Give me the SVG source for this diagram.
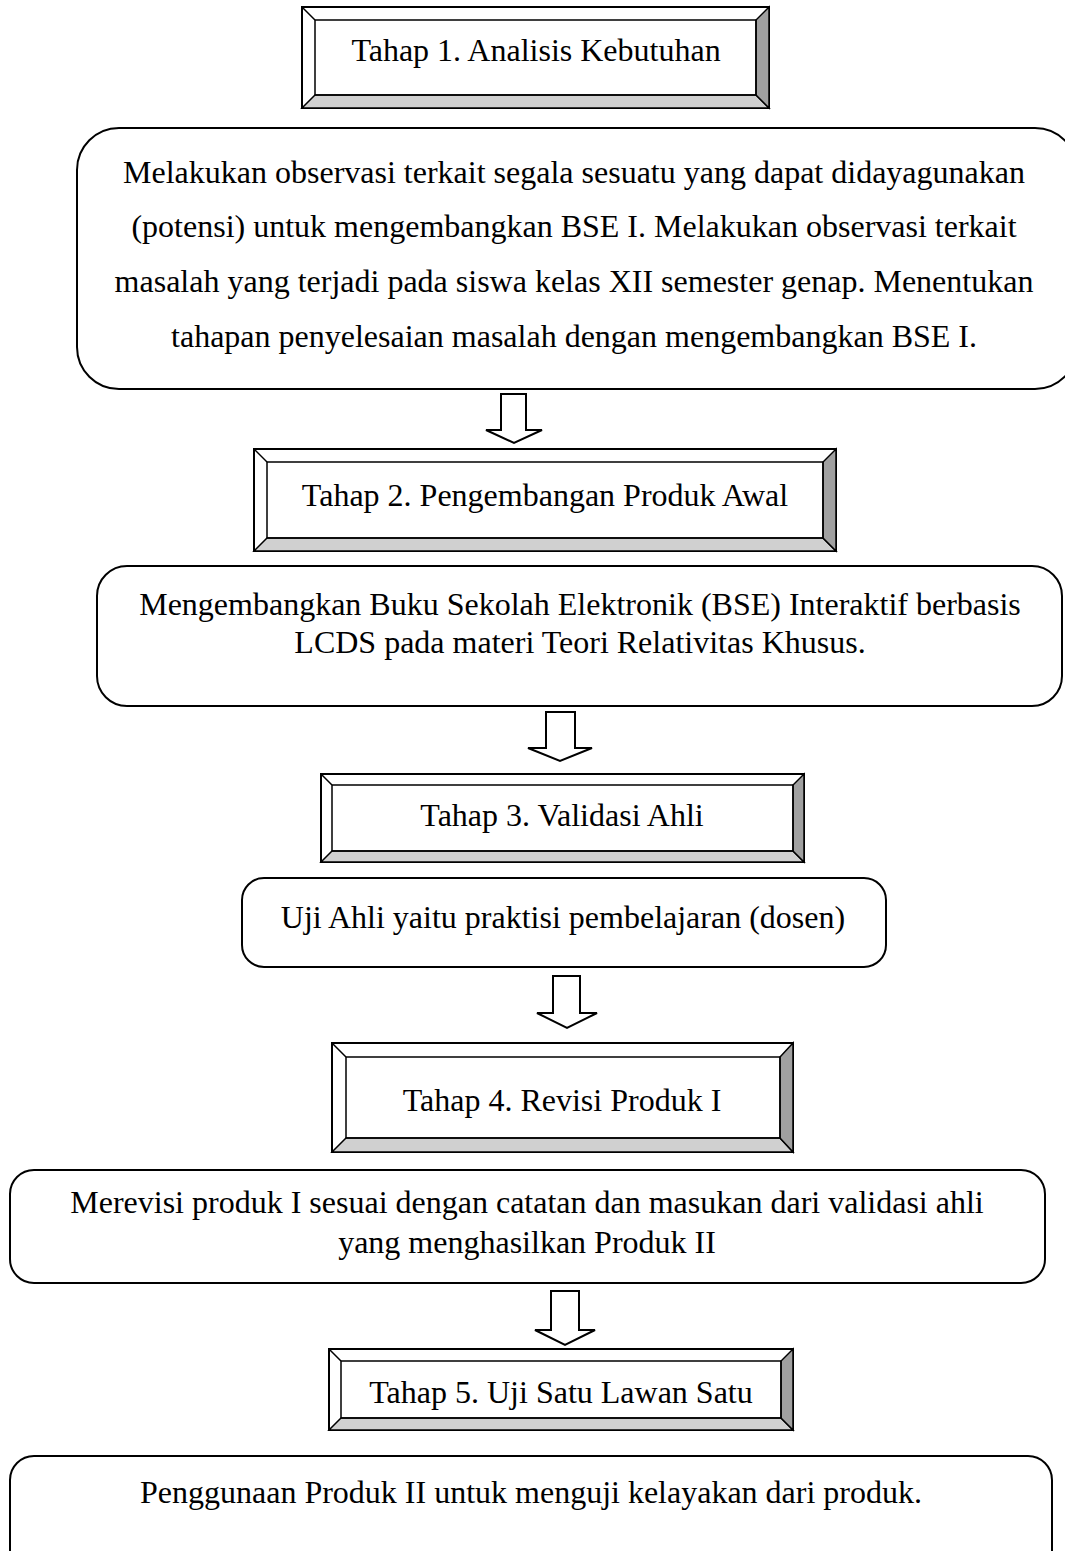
<svg xmlns="http://www.w3.org/2000/svg" width="1065" height="1551" viewBox="0 0 1065 1551">
<style>
text{font-family:"Liberation Serif","Times New Roman",serif;font-size:32px;fill:#000;text-anchor:middle}
.o{fill:#fff;stroke:#000;stroke-width:2}
.bl{fill:#d0d0d0;stroke:#000;stroke-width:1.5}
.br{fill:#a0a0a0;stroke:#000;stroke-width:1.5}
.ln{fill:none;stroke:#000;stroke-width:1.5}
.rb{fill:#fff;stroke:#000;stroke-width:2}
.ar{fill:#fff;stroke:#000;stroke-width:2;stroke-linejoin:miter}
</style>
<rect width="1065" height="1551" fill="#fff"/>
<g id="tahap1">
<rect class="o" x="302" y="7" width="467" height="101"/>
<polygon class="bl" points="302,108 769,108 756,95 315,95"/>
<polygon class="br" points="769,7 769,108 756,95 756,20"/>
<line class="ln" x1="302" y1="7" x2="315" y2="20"/>
<rect class="ln" x="315" y="20" width="441" height="75"/>
<text x="536" y="61">Tahap 1. Analisis Kebutuhan</text>
</g>
<g id="box1">
<rect class="rb" x="77" y="128" width="1000" height="261" rx="42"/>
<text x="574" y="183">Melakukan observasi terkait segala sesuatu yang dapat didayagunakan</text>
<text x="574" y="237">(potensi) untuk mengembangkan BSE I. Melakukan observasi terkait</text>
<text x="574" y="292">masalah yang terjadi pada siswa kelas XII semester genap. Menentukan</text>
<text x="574" y="347">tahapan penyelesaian masalah dengan mengembangkan BSE I.</text>
</g>
<g id="tahap2">
<rect class="o" x="254" y="449" width="582" height="102"/>
<polygon class="bl" points="254,551 836,551 823,538 267,538"/>
<polygon class="br" points="836,449 836,551 823,538 823,462"/>
<line class="ln" x1="254" y1="449" x2="267" y2="462"/>
<rect class="ln" x="267" y="462" width="556" height="76"/>
<text x="545" y="506">Tahap 2. Pengembangan Produk Awal</text>
</g>
<g id="box2">
<rect class="rb" x="97" y="566" width="965" height="140" rx="30"/>
<text x="580" y="615">Mengembangkan Buku Sekolah Elektronik (BSE) Interaktif berbasis</text>
<text x="580" y="653">LCDS pada materi Teori Relativitas Khusus.</text>
</g>
<g id="tahap3">
<rect class="o" x="321" y="774" width="483" height="88"/>
<polygon class="bl" points="321,862 804,862 793,851 332,851"/>
<polygon class="br" points="804,774 804,862 793,851 793,785"/>
<line class="ln" x1="321" y1="774" x2="332" y2="785"/>
<rect class="ln" x="332" y="785" width="461" height="66"/>
<text x="562" y="826">Tahap 3. Validasi Ahli</text>
</g>
<g id="box3">
<rect class="rb" x="242" y="878" width="644" height="89" rx="22"/>
<text x="563" y="928">Uji Ahli yaitu praktisi pembelajaran (dosen)</text>
</g>
<g id="tahap4">
<rect class="o" x="332" y="1043" width="461" height="109"/>
<polygon class="bl" points="332,1152 793,1152 780,1138 346,1138"/>
<polygon class="br" points="793,1043 793,1152 780,1138 780,1057"/>
<line class="ln" x1="332" y1="1043" x2="346" y2="1057"/>
<rect class="ln" x="346" y="1057" width="434" height="81"/>
<text x="562" y="1111">Tahap 4. Revisi Produk I</text>
</g>
<g id="box4">
<rect class="rb" x="10" y="1170" width="1035" height="113" rx="24"/>
<text x="527" y="1213">Merevisi produk I sesuai dengan catatan dan masukan dari validasi ahli</text>
<text x="527" y="1253">yang menghasilkan Produk II</text>
</g>
<g id="tahap5">
<rect class="o" x="329" y="1349" width="464" height="81"/>
<polygon class="bl" points="329,1430 793,1430 781,1418 341,1418"/>
<polygon class="br" points="793,1349 793,1430 781,1418 781,1361"/>
<line class="ln" x1="329" y1="1349" x2="341" y2="1361"/>
<rect class="ln" x="341" y="1361" width="440" height="57"/>
<text x="561" y="1403">Tahap 5. Uji Satu Lawan Satu</text>
</g>
<g id="box5">
<rect class="rb" x="10" y="1456" width="1042" height="120" rx="24"/>
<text x="531" y="1503">Penggunaan Produk II untuk menguji kelayakan dari produk.</text>
</g>
<g id="connectors">
<polygon class="ar" points="501,394 526,394 526,430 542,430 514,443 486,430 501,430"/>
<polygon class="ar" points="546,712 575,712 575,748 592,748 560,761 528,748 546,748"/>
<polygon class="ar" points="553,976 580,976 580,1013 597,1013 567,1028 537,1013 553,1013"/>
<polygon class="ar" points="551,1291 579,1291 579,1330 595,1330 565,1345 535,1330 551,1330"/>
</g>
</svg>
